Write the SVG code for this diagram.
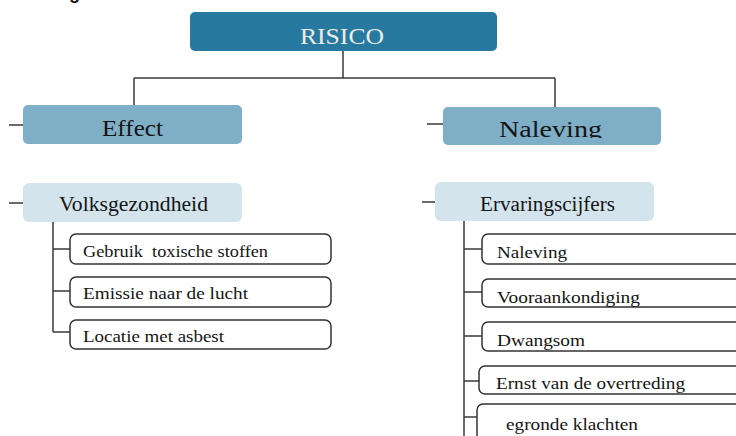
<svg xmlns="http://www.w3.org/2000/svg" width="736" height="436" viewBox="0 0 736 436">
<style>
.conn{stroke:#3a3a3a;stroke-width:1.5;fill:none}
.l0{fill:#27799f}
.l1{fill:#7fafc7}
.l2{fill:#d3e4ed}
.leaf{fill:#ffffff;stroke:#333333;stroke-width:1.5}
text{font-family:"Liberation Serif","Times New Roman",serif;fill:#151515}
.t0{font-size:24px;fill:#e8ede8}
.t1{font-size:24px}
.t2{font-size:20px}
.t3{font-size:16px}
</style>
<defs>
<clipPath id="cNal"><rect x="443" y="107" width="218" height="31"/></clipPath>
<clipPath id="cR1"><rect x="482" y="234" width="260" height="30"/></clipPath>
<clipPath id="cR2"><rect x="482" y="279" width="260" height="28"/></clipPath>
<clipPath id="cR3"><rect x="482" y="322" width="260" height="29"/></clipPath>
<clipPath id="cR4"><rect x="479" y="366" width="260" height="28"/></clipPath>
</defs>
<rect width="736" height="436" fill="#ffffff"/>
<text x="69" y="-1" style="font-family:'Liberation Sans',Arial,sans-serif;font-weight:bold;font-size:18px;fill:#111">g</text>
<g id="connectors">
<path class="conn" d="M343 51V78M134 78H555M134 78V105M555 78V107"/>
<path class="conn" d="M9 125H23M427 124H443"/>
<path class="conn" d="M9 203H23M422 202H435"/>
<path class="conn" d="M53 222V332M53 249H70M53 291H70M53 332H70"/>
<path class="conn" d="M464 221V436M464 249H482M464 292H482M464 336H482M464 381H479M464 417H477"/>
</g>
<g id="risico">
<rect class="l0" x="190" y="12" width="307" height="39" rx="5"/>
<text class="t0" x="300" y="44" textLength="84" lengthAdjust="spacingAndGlyphs">RISICO</text>
</g>
<g id="effect">
<rect class="l1" x="23" y="105" width="219" height="39" rx="5"/>
<text class="t1" x="102" y="136" textLength="61" lengthAdjust="spacingAndGlyphs">Effect</text>
</g>
<g id="naleving">
<rect class="l1" x="443" y="107" width="218" height="38" rx="5"/>
<text class="t1" x="499" y="137" textLength="103" lengthAdjust="spacingAndGlyphs" clip-path="url(#cNal)">Naleving</text>
</g>
<g id="volksgezondheid">
<rect class="l2" x="23" y="183" width="219" height="39" rx="6"/>
<text class="t2" x="59" y="211" textLength="149" lengthAdjust="spacingAndGlyphs">Volksgezondheid</text>
</g>
<g id="ervaringscijfers">
<rect class="l2" x="435" y="182" width="219" height="39" rx="6"/>
<text class="t2" x="480" y="211" textLength="135" lengthAdjust="spacingAndGlyphs">Ervaringscijfers</text>
</g>
<g id="gebruik">
<rect class="leaf" x="70" y="234" width="261" height="30" rx="6"/>
<text class="t3" x="83" y="257" textLength="185" lengthAdjust="spacingAndGlyphs" style="white-space:pre" xml:space="preserve">Gebruik  toxische stoffen</text>
</g>
<g id="emissie">
<rect class="leaf" x="70" y="277" width="261" height="30" rx="6"/>
<text class="t3" x="83" y="299" textLength="165" lengthAdjust="spacingAndGlyphs">Emissie naar de lucht</text>
</g>
<g id="locatie">
<rect class="leaf" x="70" y="320" width="261" height="29" rx="6"/>
<text class="t3" x="83" y="342" textLength="141" lengthAdjust="spacingAndGlyphs">Locatie met asbest</text>
</g>
<g id="r-naleving">
<rect class="leaf" x="482" y="234" width="280" height="30" rx="6"/>
<text class="t3" x="497" y="258" textLength="70" lengthAdjust="spacingAndGlyphs" clip-path="url(#cR1)">Naleving</text>
</g>
<g id="vooraankondiging">
<rect class="leaf" x="482" y="279" width="280" height="28" rx="6"/>
<text class="t3" x="497" y="303" textLength="143" lengthAdjust="spacingAndGlyphs" clip-path="url(#cR2)">Vooraankondiging</text>
</g>
<g id="dwangsom">
<rect class="leaf" x="482" y="322" width="280" height="29" rx="6"/>
<text class="t3" x="497" y="346" textLength="88" lengthAdjust="spacingAndGlyphs" clip-path="url(#cR3)">Dwangsom</text>
</g>
<g id="ernst">
<rect class="leaf" x="479" y="366" width="280" height="28" rx="6"/>
<text class="t3" x="496" y="389" textLength="189" lengthAdjust="spacingAndGlyphs" clip-path="url(#cR4)">Ernst van de overtreding</text>
</g>
<g id="klachten">
<rect class="leaf" x="477" y="404" width="280" height="60" rx="6"/>
<text class="t3" x="506" y="430" textLength="132" lengthAdjust="spacingAndGlyphs">egronde klachten</text>
</g>
</svg>
